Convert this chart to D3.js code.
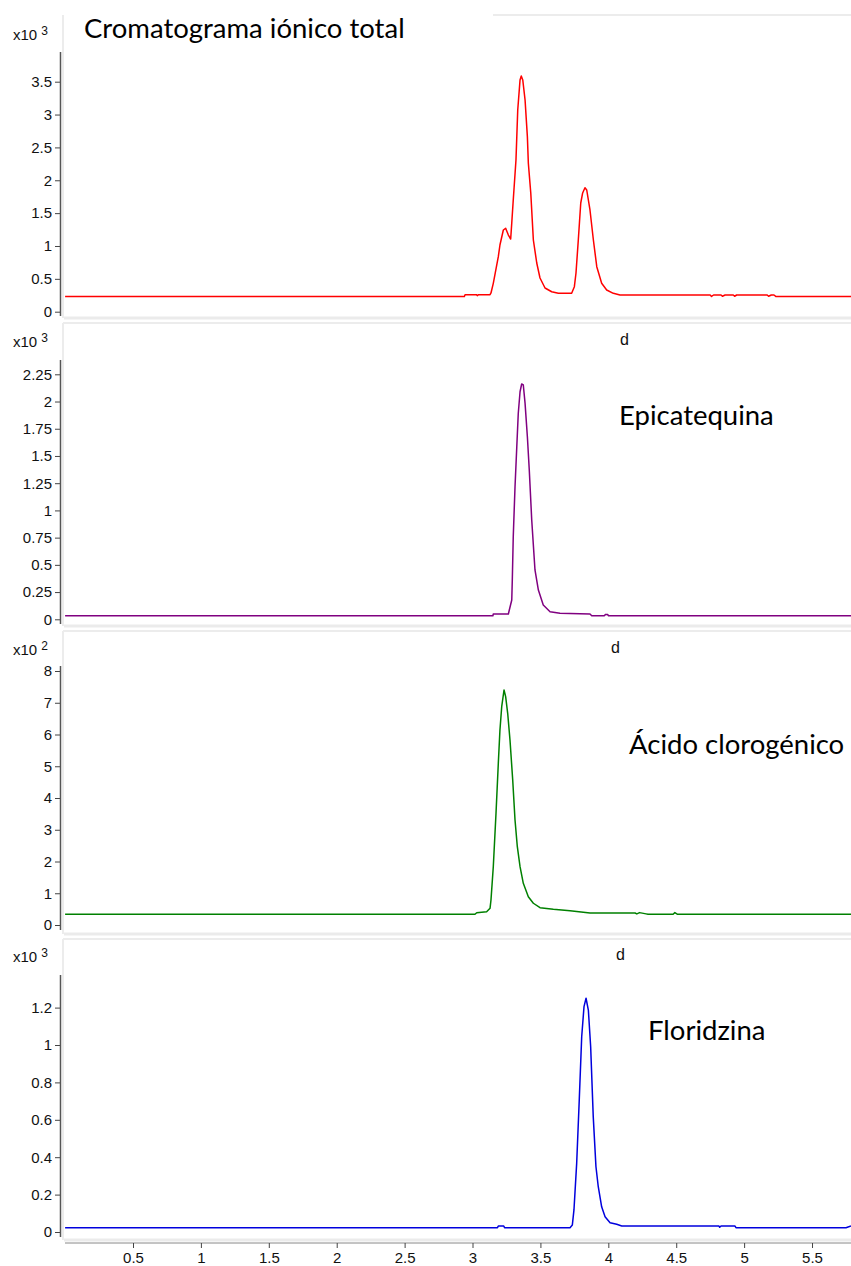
<!DOCTYPE html>
<html><head><meta charset="utf-8">
<script src="https://cdn.jsdelivr.net/npm/d3@7"></script>
<style>body{margin:0;background:#fff}svg{display:block}</style>
</head><body>
<svg id="c" width="851" height="1266"></svg>
<script>
// ---- data ----
const xTicks = [0.5, 1, 1.5, 2, 2.5, 3, 3.5, 4, 4.5, 5, 5.5];
const ticTicks = [0, 0.5, 1, 1.5, 2, 2.5, 3, 3.5];
const epiTicks = [0, 0.25, 0.5, 0.75, 1, 1.25, 1.5, 1.75, 2, 2.25];
const cloTicks = [0, 1, 2, 3, 4, 5, 6, 7, 8];
const floTicks = [0, 0.2, 0.4, 0.6, 0.8, 1, 1.2];

const titles = ["Cromatograma iónico total", "Epicatequina", "Ácido clorogénico", "Floridzina"];
const exponents = ["3", "3", "2", "3"];

// Total ion chromatogram (x10^3)
const ticData = [
 [0,0.23],[2.94,0.23],[2.945,0.259],[3.03,0.259],[3.035,0.245],[3.045,0.259],[3.129,0.259],
 [3.136,0.285],[3.153,0.432],[3.19,0.837],[3.202,1.015],[3.227,1.243],[3.244,1.269],[3.264,1.167],
 [3.281,1.106],[3.289,1.35],[3.3,1.7],[3.32,2.309],[3.333,3.07],[3.35,3.527],[3.359,3.588],
 [3.37,3.527],[3.387,3.222],[3.404,2.664],[3.411,2.263],[3.429,1.807],[3.448,1.091],[3.473,0.741],
 [3.497,0.513],[3.534,0.361],[3.583,0.304],[3.632,0.28],[3.73,0.28],[3.75,0.381],[3.762,0.589],
 [3.779,1.091],[3.797,1.654],[3.811,1.807],[3.828,1.887],[3.841,1.852],[3.865,1.548],[3.89,1.091],
 [3.915,0.685],[3.951,0.432],[3.988,0.33],[4.037,0.28],[4.086,0.254],[4.75,0.254],[4.76,0.232],
 [4.775,0.254],[4.83,0.254],[4.84,0.235],[4.86,0.254],[4.92,0.254],[4.93,0.235],[4.945,0.254],
 [5.17,0.254],[5.18,0.235],[5.2,0.254],[5.22,0.254],[5.235,0.23],[5.787,0.23]
];
// Epicatequina (x10^3)
const epiData = [
 [0,0.033],[3.15,0.033],[3.153,0.049],[3.264,0.049],[3.271,0.085],[3.289,0.177],[3.293,0.361],
 [3.3,0.758],[3.313,1.218],[3.326,1.585],[3.337,1.892],[3.35,2.09],[3.362,2.161],[3.374,2.152],
 [3.387,1.983],[3.404,1.677],[3.418,1.371],[3.436,0.912],[3.46,0.453],[3.485,0.269],[3.521,0.131],
 [3.571,0.07],[3.644,0.055],[3.865,0.049],[3.878,0.033],[3.97,0.033],[3.98,0.045],[3.995,0.045],
 [4.0,0.033],[5.787,0.033]
];
// Ácido clorogénico (x10^2)
const cloData = [
 [0,0.337],[3.018,0.337],[3.031,0.387],[3.104,0.419],[3.129,0.526],[3.136,0.787],[3.153,1.836],
 [3.173,3.518],[3.19,5.093],[3.202,6.142],[3.215,6.876],[3.232,7.402],[3.244,7.191],[3.259,6.668],
 [3.276,5.827],[3.296,4.567],[3.313,3.307],[3.33,2.466],[3.35,1.836],[3.374,1.313],[3.411,0.891],
 [3.448,0.685],[3.497,0.545],[3.595,0.494],[3.718,0.45],[3.816,0.4],[3.865,0.378],[4.197,0.378],
 [4.21,0.35],[4.23,0.39],[4.278,0.35],[4.293,0.337],[4.477,0.337],[4.49,0.39],[4.51,0.337],
 [5.787,0.337]
];
// Floridzina (x10^3)
const floData = [
 [0,0.023],[3.184,0.023],[3.19,0.032],[3.23,0.032],[3.236,0.023],[3.718,0.023],[3.735,0.037],
 [3.747,0.118],[3.767,0.367],[3.786,0.706],[3.804,1.044],[3.821,1.205],[3.836,1.25],[3.853,1.187],
 [3.87,0.991],[3.889,0.617],[3.909,0.349],[3.926,0.242],[3.951,0.135],[3.976,0.082],[4.013,0.05],
 [4.062,0.041],[4.099,0.032],[4.815,0.032],[4.82,0.025],[4.83,0.032],[4.933,0.032],[4.94,0.023],
 [5.75,0.023],[5.787,0.032]
];

// ---- layout ----
const svg = d3.select("#c");
const W = 851;
const x = d3.scaleLinear().domain([0, 5.787]).range([65.1, 851]);
const FONT = "Liberation Sans, Arial, sans-serif";

const panels = [
 {data: ticData, ticks: ticTicks, color: "#ff0000", zero: 311.7, topPx: 81.7,
  axisTop: 52, axisBot: 316, frameTop: 15, frameBot: 318, expY: 40,
  title: {x: 84, y: 38}},
 {data: epiData, ticks: epiTicks, color: "#800080", zero: 619.3, topPx: 374.3,
  axisTop: 360, axisBot: 624, frameTop: 323, frameBot: 626, expY: 347, dY: 345, dX: 620,
  title: {x: 619, y: 425}},
 {data: cloData, ticks: cloTicks, color: "#008000", zero: 925, topPx: 671,
  axisTop: 666, axisBot: 930, frameTop: 631, frameBot: 934, expY: 655, dY: 653, dX: 611,
  title: {x: 629, y: 754}},
 {data: floData, ticks: floTicks, color: "#0000dd", zero: 1232, topPx: 1007.6,
  axisTop: 975, axisBot: 1237, frameTop: 939, frameBot: 1240, expY: 962, dY: 960, dX: 616,
  title: {x: 648, y: 1040}}
];

panels.forEach((p, i) => {
  const topVal = p.ticks[p.ticks.length - 1];
  const y = d3.scaleLinear().domain([0, topVal]).range([p.zero, p.topPx]);
  const g = svg.append("g");

  // light panel frame
  g.append("line").attr("x1", 64).attr("x2", W).attr("y1", p.frameBot).attr("y2", p.frameBot)
    .attr("stroke", "#ebebeb").attr("stroke-width", 3);
  g.append("line").attr("x1", i === 0 ? 493 : 63).attr("x2", W).attr("y1", p.frameTop).attr("y2", p.frameTop)
    .attr("stroke", "#ececec").attr("stroke-width", 2);
  g.append("line").attr("x1", 63).attr("x2", 63).attr("y1", p.frameTop).attr("y2", p.frameBot)
    .attr("stroke", "#ececec").attr("stroke-width", 2);

  // y axis
  const ax = d3.axisLeft(y).tickValues(p.ticks).tickSize(5).tickPadding(3).tickFormat(d => String(d));
  const ag = g.append("g").attr("transform", "translate(60,0)").call(ax);
  ag.select(".domain").remove();
  ag.selectAll(".tick line").attr("stroke", "#444");
  ag.selectAll("text").attr("font-family", FONT).attr("font-size", 15).attr("fill", "#111");
  g.append("line").attr("x1", 60.5).attr("x2", 60.5).attr("y1", p.axisTop).attr("y2", p.axisBot)
    .attr("stroke", "#555").attr("stroke-width", 1.5);

  // multiplier
  const t = g.append("text").attr("x", 13).attr("y", p.expY)
    .attr("font-family", FONT).attr("font-size", 15).attr("fill", "#111");
  t.append("tspan").text("x10 ");
  t.append("tspan").attr("dy", -5).attr("font-size", 12).text(exponents[i]);

  if (p.dX) {
    g.append("text").attr("x", p.dX).attr("y", p.dY).text("d")
      .attr("font-family", FONT).attr("font-size", 16).attr("fill", "#111");
  }

  // trace
  const line = d3.line().x(d => x(d[0])).y(d => y(d[1]));
  g.append("path").datum(p.data).attr("d", line).attr("fill", "none")
    .attr("stroke", p.color).attr("stroke-width", 1.5).attr("stroke-linejoin", "round");

  // title
  g.append("text").attr("x", p.title.x).attr("y", p.title.y).text(titles[i])
    .attr("font-family", "Lato, 'Open Sans', sans-serif").attr("font-size", 27.5).attr("fill", "#000");
});

// x axis
const xg = svg.append("g").attr("transform", "translate(0,1243)")
  .call(d3.axisBottom(x).tickValues(xTicks).tickSize(5).tickPadding(4).tickFormat(d => String(d)));
xg.select(".domain").attr("stroke", "#888").attr("d", "M65,0H851");
xg.selectAll(".tick line").attr("stroke", "#444");
xg.selectAll("text").attr("font-family", FONT).attr("font-size", 15).attr("fill", "#111");
</script>
</body></html>
